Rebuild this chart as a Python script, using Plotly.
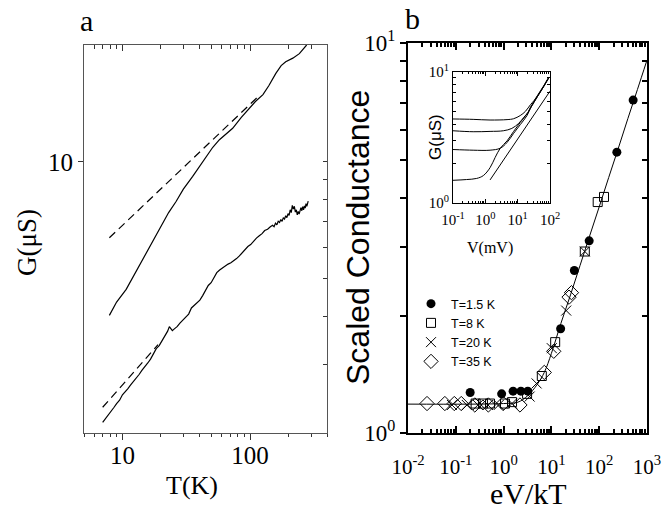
import plotly.graph_objects as go

# ---------------- Panel a data : G(uS) vs T(K) ----------------
T_upper = [7.9, 9.0, 10.7, 12.5, 14.4, 17.0, 19.5, 23.0, 26.3, 30.0, 35.5, 40.0, 45.2, 51.0,
           57.5, 65.0, 73.0, 85.0, 99.0, 110.0, 126.0, 140.0, 159.0, 175.0, 190.0, 216.0, 243.0, 277.0]
G_upper = [4.02, 4.35, 4.69, 5.15, 5.60, 6.20, 6.76, 7.40, 7.90, 8.50, 9.17, 9.70, 10.3, 10.9,
           11.4, 11.8, 12.2, 13.0, 13.8, 14.3, 14.9, 15.7, 16.9, 17.7, 18.1, 18.5, 19.0, 20.0]

T_upper_fit = [7.9, 120.0]
G_upper_fit = [6.37, 14.9]

T_lower = [7.0, 7.4, 7.8, 8.2, 8.6, 9.0, 9.5, 10.0, 10.5, 11.0, 11.6, 12.2, 12.8, 13.5, 14.2,
           15.0, 15.8, 16.6, 17.5, 18.4, 19.4, 20.4, 21.5, 22.6, 23.3, 23.9, 24.6, 25.5, 26.8,
           28.2, 29.7, 31.3, 33.0, 34.7, 36.5, 38.4, 40.4, 42.5, 44.7, 47.0, 49.5, 52.1, 54.8,
           57.7, 60.7, 63.9, 67.2, 70.7, 74.4, 78.3, 82.4, 86.7, 91.2, 96.0, 101, 106, 112, 118,
           124, 130, 137, 144, 150, 154, 158, 162, 166, 170, 174, 178, 182, 186, 190, 194, 198,
           202, 206, 210, 214, 218, 222, 226, 230, 234, 238, 242, 246, 250, 254, 258, 262, 266,
           270, 274, 278, 282, 285]
G_lower = [2.13, 2.18, 2.23, 2.27, 2.33, 2.38, 2.43, 2.51, 2.55, 2.60, 2.66, 2.71, 2.77, 2.83, 2.90,
           2.96, 3.03, 3.10, 3.19, 3.30, 3.36, 3.45, 3.55, 3.66, 3.76, 3.72, 3.67, 3.71, 3.76,
           3.84, 3.91, 3.99, 4.05, 4.20, 4.27, 4.33, 4.40, 4.52, 4.65, 4.80, 4.88, 5.05, 5.18,
           5.26, 5.33, 5.40, 5.45, 5.49, 5.55, 5.63, 5.72, 5.83, 5.97, 6.05, 6.12, 6.24, 6.36, 6.45,
           6.53, 6.65, 6.70, 6.80, 6.86, 6.80, 6.95, 6.88, 7.03, 6.98, 7.10, 7.02, 7.18, 7.12, 7.26,
           7.18, 7.35, 7.28, 7.52, 7.40, 7.72, 7.55, 7.68, 7.42, 7.52, 7.30, 7.45, 7.33, 7.50,
           7.62, 7.48, 7.66, 7.52, 7.70, 7.60, 7.80, 7.68, 7.88, 7.92]

T_lower_fit = [7.0, 19.0]
G_lower_fit = [2.33, 3.38]

# ---------------- Panel b data : scaled conductance vs eV/kT ----------------
x_curve = [0.01, 1.0, 2.0, 3.16, 5.0, 7.1, 10.0, 15.8, 25.1, 39.8, 63.0, 100.0, 158.0, 251.0,
           398.0, 631.0, 1000.0]
y_curve = [1.186, 1.19, 1.20, 1.245, 1.33, 1.43, 1.60, 1.91, 2.26, 2.69, 3.20, 3.80, 4.52, 5.37,
           6.40, 7.60, 9.04]

x_T15 = [0.20, 0.91, 1.58, 2.3, 3.2, 15.6, 30.2, 61.7, 234.0, 513.0]
y_T15 = [1.27, 1.26, 1.28, 1.28, 1.28, 1.85, 2.61, 3.11, 5.25, 7.14]

x_T8 = [0.26, 0.37, 0.52, 1.07, 1.5, 3.1, 6.3, 12.0, 50.0, 93.0, 126.0]
y_T8 = [1.19, 1.19, 1.19, 1.19, 1.20, 1.26, 1.40, 1.71, 2.92, 3.91, 4.03]

x_T20 = [0.083, 0.17, 0.29, 0.47, 0.79, 1.5, 3.5, 4.9, 10.2, 20.4, 50.0]
y_T20 = [1.18, 1.18, 1.18, 1.18, 1.18, 1.19, 1.24, 1.34, 1.65, 2.06, 2.92]

x_T35 = [0.025, 0.059, 0.093, 0.13, 0.25, 0.48, 0.98, 2.2, 7.1, 11.2, 23.4, 26.3]
y_T35 = [1.19, 1.19, 1.19, 1.19, 1.18, 1.18, 1.19, 1.18, 1.43, 1.62, 2.23, 2.29]

legend_names = ["T=1.5 K", "T=8 K", "T=20 K", "T=35 K"]

# ---------------- Inset data : G(uS) vs V(mV) ----------------
V_A = [0.1, 0.42, 1.4, 4.7, 7.5, 12.0, 17.4, 25.0, 32.0, 41.0, 52.0, 65.0, 78.0, 93.0]
G_A = [4.38, 4.35, 4.30, 4.33, 4.40, 4.65, 5.01, 5.64, 6.05, 6.62, 7.25, 7.90, 8.55, 9.16]
V_B = [0.1, 0.42, 1.4, 3.6, 6.6, 10.7, 15.5, 20.9, 25.0, 41.0, 65.0, 93.0]
G_B = [3.56, 3.50, 3.52, 3.56, 3.71, 4.05, 4.51, 4.92, 5.40, 6.55, 7.85, 9.10]
V_C = [0.1, 0.42, 1.4, 2.9, 4.7, 7.5, 12.0, 19.5, 25.0, 41.0, 65.0, 93.0]
G_C = [2.56, 2.53, 2.53, 2.62, 2.90, 3.40, 3.96, 4.65, 5.30, 6.50, 7.80, 9.10]
V_D = [0.1, 0.26, 0.54, 0.87, 1.4, 2.0, 2.9, 4.7, 7.5, 12.0, 19.5, 25.0, 41.0, 65.0, 93.0]
G_D = [1.49, 1.51, 1.54, 1.62, 1.86, 2.22, 2.62, 2.98, 3.52, 4.12, 4.79, 5.30, 6.50, 7.80, 9.10]
V_line = [1.40, 100.0]
G_line = [1.50, 7.14]

# ---------------- geometry (pixels of 664x512 page) ----------------
W, H = 664, 512
def px(x):
    return x / W
def py(y):
    return 1 - y / H

SERIF = "Liberation Serif, Times New Roman, serif"
SANS = "Liberation Sans, Arial, sans-serif"

fig = go.Figure()

# panel a
fig.add_trace(go.Scatter(x=T_upper, y=G_upper, mode="lines", line=dict(color="black", width=1.2),
                         xaxis="x", yaxis="y", showlegend=False))
fig.add_trace(go.Scatter(x=T_upper_fit, y=G_upper_fit, mode="lines",
                         line=dict(color="black", width=1.2, dash="8px,5px"),
                         xaxis="x", yaxis="y", showlegend=False))
fig.add_trace(go.Scatter(x=T_lower, y=G_lower, mode="lines", line=dict(color="black", width=1.2),
                         xaxis="x", yaxis="y", showlegend=False))
fig.add_trace(go.Scatter(x=T_lower_fit, y=G_lower_fit, mode="lines",
                         line=dict(color="black", width=1.2, dash="8px,5px"),
                         xaxis="x", yaxis="y", showlegend=False))

# panel b
fig.add_trace(go.Scatter(x=x_curve, y=y_curve, mode="lines", line=dict(color="black", width=1, shape="spline"),
                         xaxis="x2", yaxis="y2", showlegend=False))
marker_specs = [
    (x_T15, y_T15, dict(symbol="circle", size=9, color="black")),
    (x_T8, y_T8, dict(symbol="square-open", size=9, color="black", line=dict(width=1))),
    (x_T20, y_T20, dict(symbol="x-thin-open", size=10, color="black", line=dict(width=1, color="black"))),
    (x_T35, y_T35, dict(symbol="diamond-open", size=11, color="black", line=dict(width=1))),
]
for (xs, ys, mk), name in zip(marker_specs, legend_names):
    fig.add_trace(go.Scatter(x=xs, y=ys, mode="markers", marker=mk, name=name,
                             xaxis="x2", yaxis="y2"))

# inset
for vs, gs in [(V_A, G_A), (V_B, G_B), (V_C, G_C), (V_D, G_D), (V_line, G_line)]:
    fig.add_trace(go.Scatter(x=vs, y=gs, mode="lines", line=dict(color="black", width=1, shape="spline"),
                             xaxis="x3", yaxis="y3", showlegend=False))

# empty helper traces so the overlay tick axes are drawn
fig.add_trace(go.Scatter(x=[], y=[], xaxis="x4", yaxis="y4", showlegend=False))
fig.add_trace(go.Scatter(x=[], y=[], xaxis="x2", yaxis="y5", showlegend=False))

def dec_minor(lo, hi):
    vals = []
    d = lo
    while d < hi:
        for m in range(2, 10):
            vals.append(m * d)
        d *= 10
    return vals

a_minor_x = [5, 6, 7, 8, 9, 20, 30, 40, 50, 60, 70, 80, 90, 200, 300, 400]
common = dict(showgrid=False, zeroline=False, type="log", automargin=False)

def note(text, x, y, size, family, angle=0):
    return dict(text=text, x=px(x), y=py(y), xref="paper", yref="paper", showarrow=False,
                xanchor="center", yanchor="middle", textangle=angle,
                font=dict(family=family, size=size, color="black"))

fig.update_layout(
    template="none",
    width=W, height=H, margin=dict(l=0, r=0, t=0, b=0, pad=0, autoexpand=False),
    paper_bgcolor="white", plot_bgcolor="white",
    xaxis=dict(**common, domain=[px(84), px(327)], anchor="y", range=[0.69897, 2.60206],
               tickmode="array", tickvals=[10, 100], ticktext=["10", "100"],
               ticks="outside", ticklen=6, tickcolor="#333", showline=True, linecolor="#555", linewidth=1,
               minor=dict(tickmode="array", tickvals=a_minor_x, ticks="outside", ticklen=3, tickcolor="#333"),
               tickfont=dict(family=SERIF, size=25, color="black"), ticklabelstandoff=-6),
    yaxis=dict(**common, domain=[py(433), py(45)], anchor="x", range=[0.30103, 1.30103],
               tickmode="array", tickvals=[10], ticktext=["10"],
               ticks="outside", ticklen=5, tickcolor="#333", showline=True, linecolor="#555", linewidth=1,
               tickfont=dict(family=SERIF, size=25, color="black")),
    xaxis4=dict(**common, overlaying="x", side="top", anchor="y4", range=[0.69897, 2.60206],
                tickmode="array", tickvals=[10, 100], showticklabels=False,
                ticks="inside", ticklen=6, tickcolor="#333", showline=True, linecolor="#555", linewidth=1,
                minor=dict(tickmode="array", tickvals=a_minor_x, ticks="inside", ticklen=4, tickcolor="#333")),
    yaxis4=dict(**common, overlaying="y", side="right", anchor="x4", range=[0.30103, 1.30103],
                tickmode="array", tickvals=[2, 3, 4, 5, 6, 7, 8, 9, 10], showticklabels=False,
                ticks="inside", ticklen=4, tickcolor="#333", showline=True, linecolor="#555", linewidth=1),
    xaxis2=dict(**common, domain=[px(408), px(647)], anchor="y2", range=[-2, 3],
                tickmode="array", tickvals=[0.01, 0.1, 1, 10, 100, 1000],
                ticktext=["10<sup>-2</sup>", "10<sup>-1</sup>", "10<sup>0</sup>", "10<sup>1</sup>",
                          "10<sup>2</sup>", "10<sup>3</sup>"],
                ticks="inside", ticklen=7, tickwidth=1.5, tickcolor="black", mirror="ticks",
                showline=True, linecolor="black", linewidth=2,
                minor=dict(tickmode="array", tickvals=dec_minor(0.01, 1000), ticks="inside", ticklen=4,
                           tickcolor="black"),
                tickfont=dict(family=SERIF, size=21, color="black"), ticklabelstandoff=14),
    yaxis2=dict(**common, domain=[py(433), py(43)], anchor="x2", range=[0, 1],
                tickmode="array", tickvals=[1, 10], ticktext=["10<sup>0</sup>", "10<sup>1</sup>"],
                ticks="outside", ticklen=6, tickwidth=1.5, tickcolor="black",
                showline=True, linecolor="black", linewidth=2,
                minor=dict(tickmode="array", tickvals=[2, 3, 4, 5, 6, 7, 8, 9], ticks="outside", ticklen=6,
                           tickwidth=1.5, tickcolor="black"),
                tickfont=dict(family=SERIF, size=23, color="black")),
    yaxis5=dict(**common, overlaying="y2", side="right", anchor="x2", range=[0, 1],
                tickmode="array", tickvals=[1, 2, 3, 4, 5, 6, 7, 8, 9, 10], showticklabels=False,
                ticks="inside", ticklen=5, tickwidth=1.5, tickcolor="black",
                showline=True, linecolor="black", linewidth=2),
    xaxis3=dict(**common, domain=[px(453), px(550)], anchor="y3", range=[-1, 2],
                tickmode="array", tickvals=[0.1, 1, 10, 100],
                ticktext=["10<sup>-1</sup>", "10<sup>0</sup>", "10<sup>1</sup>", "10<sup>2</sup>"],
                ticks="inside", ticklen=4, tickcolor="black", mirror="ticks",
                showline=True, linecolor="black", linewidth=1,
                minor=dict(tickmode="array", tickvals=dec_minor(0.1, 100), ticks="inside", ticklen=2,
                           tickcolor="black"),
                tickfont=dict(family=SERIF, size=15, color="black"), ticklabelstandoff=3),
    yaxis3=dict(**common, domain=[py(203), py(72)], anchor="x3", range=[0, 1],
                tickmode="array", tickvals=[1, 10], ticktext=["10<sup>0</sup>", "10<sup>1</sup>"],
                ticks="inside", ticklen=4, tickcolor="black", mirror="ticks",
                showline=True, linecolor="black", linewidth=1,
                minor=dict(tickmode="array", tickvals=[2, 3, 4, 5, 6, 7, 8, 9], ticks="inside", ticklen=3,
                           tickcolor="black"),
                tickfont=dict(family=SERIF, size=15, color="black")),
    legend=dict(x=px(411), y=py(289), xanchor="left", yanchor="top", bgcolor="rgba(0,0,0,0)",
                borderwidth=0, font=dict(family=SANS, size=12.5, color="black"), tracegroupgap=0,
                itemwidth=30),
    showlegend=True,
    annotations=[
        note("a", 86, 20, 30, SERIF),
        note("b", 412, 18, 30, SERIF),
        note("G(μS)", 27, 243, 27, SERIF, -90),
        note("T(K)", 192, 485, 26, SERIF),
        note("Scaled Conductance", 358, 238, 32, SANS, -90),
        note("eV/kT", 528, 493, 30, SERIF),
        note("V(mV)", 490, 248, 16, SERIF),
        note("G(μS)", 435, 137, 17, SANS, -90),
    ],
)

fig.write_html("out.html", config={"displayModeBar": False},
               post_script="document.body.style.margin='0px';")
